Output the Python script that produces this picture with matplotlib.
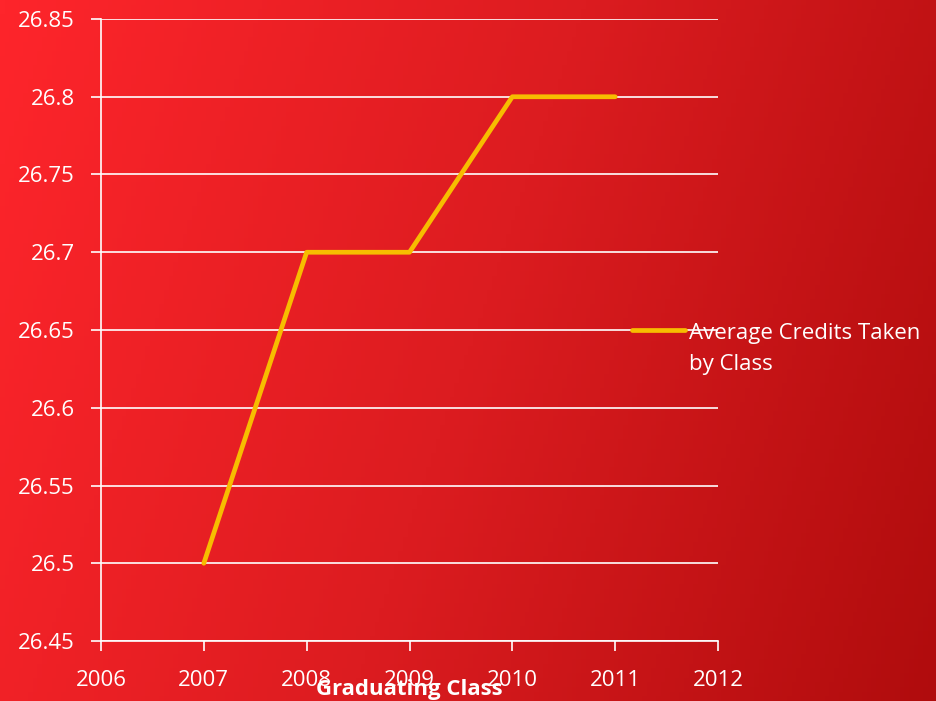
import numpy as np
import matplotlib
matplotlib.use("Agg")
import matplotlib.pyplot as plt
from matplotlib.colors import LinearSegmentedColormap
from matplotlib.ticker import FuncFormatter, MultipleLocator

years = [2007, 2008, 2009, 2010, 2011]
credits = [26.5, 26.7, 26.7, 26.8, 26.8]
series_name = "Average Credits Taken\nby Class"
x_label = "Graduating Class"

plt.rcParams['font.family'] = ['Open Sans', 'DejaVu Sans']
FS = 16

fig = plt.figure(figsize=(9.37, 7.01), dpi=100)

# gradient background
bg = fig.add_axes([0, 0, 1, 1], zorder=-10)
nx, ny = 200, 150
xx, yy = np.meshgrid(np.linspace(0, 1, nx), np.linspace(0, 1, ny))
t = np.clip(0.8 * xx + 0.2 * yy, 0, 1)
cmap = LinearSegmentedColormap.from_list("bg", ["#fe252b", "#dc1c20", "#b00c0d"])
bg.imshow(t, cmap=cmap, aspect='auto', extent=[0, 1, 0, 1], origin='upper')
bg.axis('off')

ax = fig.add_axes([101/937, 1 - 641/701, (718-101)/937, (641-19)/701])
ax.patch.set_alpha(0)
ax.plot(years, credits, color='#f7bd00', lw=3.4, solid_capstyle='round',
        label=series_name, zorder=3)

ax.set_xlim(2006, 2012)
ax.set_ylim(26.45, 26.85)
ax.xaxis.set_major_locator(MultipleLocator(1))
ax.yaxis.set_major_locator(MultipleLocator(0.05))
ax.yaxis.set_major_formatter(FuncFormatter(lambda v, p: f"{round(v, 2):g}"))
ax.grid(axis='y', color='white', lw=1.2)
ax.set_axisbelow(True)
for s in ['top', 'right']:
    ax.spines[s].set_visible(False)
for s in ['left', 'bottom']:
    ax.spines[s].set_color('white')
    ax.spines[s].set_linewidth(1.2)
ax.tick_params(colors='white', labelsize=FS, length=7, width=1.2, direction='out')
ax.tick_params(axis='x', pad=14)
ax.tick_params(axis='y', pad=12)
ax.set_xlabel(x_label, color='white', fontsize=FS, fontweight='bold', labelpad=-8.5)

leg = fig.legend(loc='upper left', bbox_to_anchor=(612/937, 1 - 303/701),
                 frameon=False, fontsize=FS, labelcolor='white',
                 handlelength=2.4, handletextpad=0.15)
for txt in leg.get_texts():
    txt.set_linespacing(1.62)
for ln in leg.get_lines():
    yd = np.asarray(ln.get_ydata(), dtype=float)
    ln.set_ydata(yd + 14)

fig.savefig("out.png", dpi=100)
